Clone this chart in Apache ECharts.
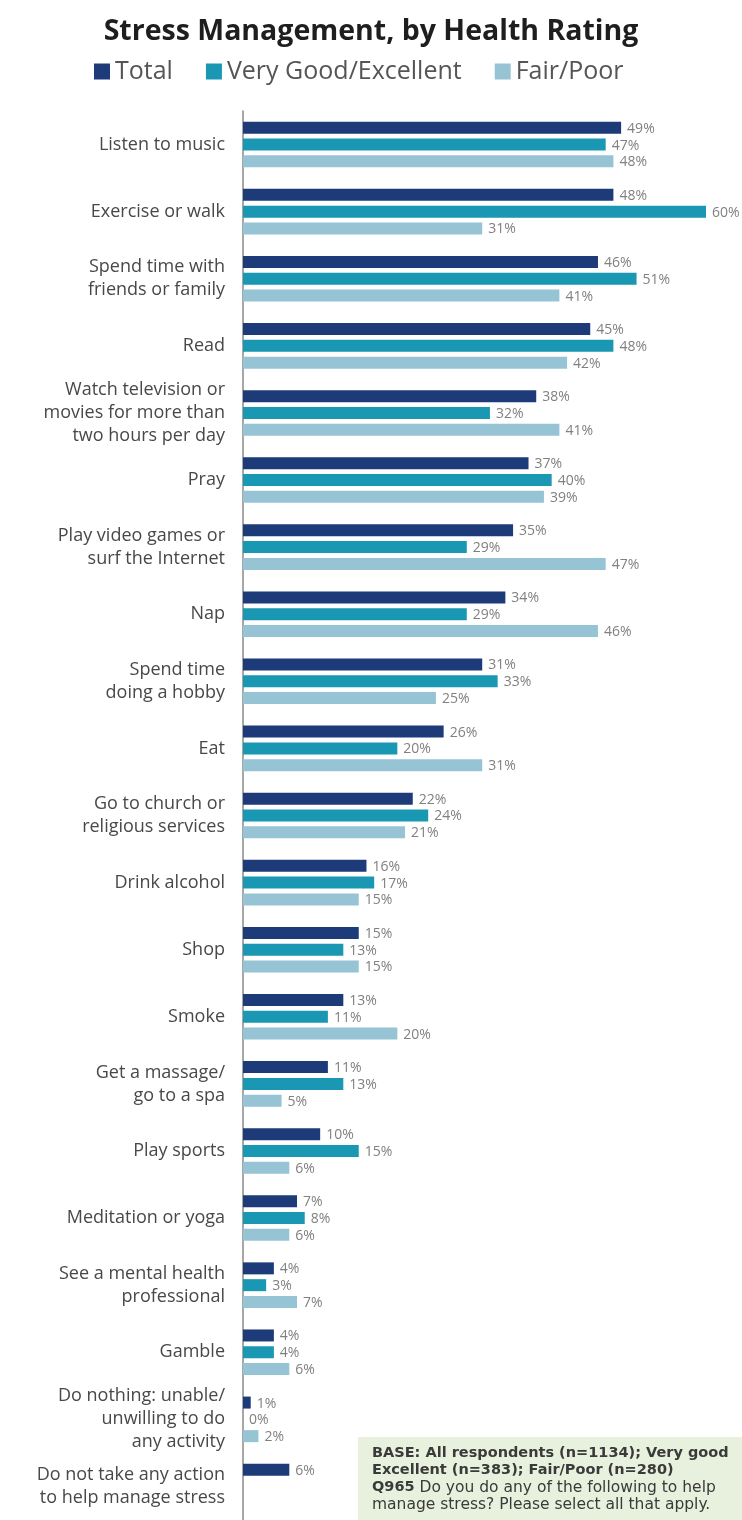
<!DOCTYPE html>
<html>
<head>
<meta charset="utf-8">
<script src="https://cdn.jsdelivr.net/npm/echarts@6/dist/echarts.min.js"></script>
<style>
  html, body { margin: 0; padding: 0; background: #ffffff; }
  #chart { width: 742px; height: 1520px; }
</style>
</head>
<body>
<div id="chart"></div>
<script>
// Stress management activities, share of respondents by self-rated health
const categories = [
  'Listen to music',
  'Exercise or walk',
  'Spend time with\nfriends or family',
  'Read',
  'Watch television or\nmovies for more than\ntwo hours per day',
  'Pray',
  'Play video games or\nsurf the Internet',
  'Nap',
  'Spend time\ndoing a hobby',
  'Eat',
  'Go to church or\nreligious services',
  'Drink alcohol',
  'Shop',
  'Smoke',
  'Get a massage/\ngo to a spa',
  'Play sports',
  'Meditation or yoga',
  'See a mental health\nprofessional',
  'Gamble',
  'Do nothing: unable/\nunwilling to do\nany activity',
  'Do not take any action\nto help manage stress'
];

const seriesNames = ['Total', 'Very Good/Excellent', 'Fair/Poor'];

const totalValues     = [49, 48, 46, 45, 38, 37, 35, 34, 31, 26, 22, 16, 15, 13, 11, 10, 7, 4, 4, 1, 6];
const veryGoodValues  = [47, 60, 51, 48, 32, 40, 29, 29, 33, 20, 24, 17, 13, 11, 13, 15, 8, 3, 4, 0, null];
const fairPoorValues  = [48, 31, 41, 42, 41, 39, 47, 46, 25, 31, 21, 15, 15, 20, 5, 6, 6, 7, 6, 2, null];

const colors = ['#1d3b78', '#1a97b2', '#97c4d5'];

const FONT = '"Open Sans", "Noto Sans", sans-serif';
const NOTE_FONT = '"DejaVu Sans", sans-serif';

const chart = echarts.init(document.getElementById('chart'), null, { renderer: 'canvas' });

function barSeries(name, values, color) {
  return {
    name: name,
    type: 'bar',
    data: values.map(v => (v === null ? '-' : v)),
    barWidth: 12,
    barGap: '40%',
    itemStyle: { color: color },
    label: {
      show: true,
      position: 'right',
      distance: 6,
      offset: [0, 1],
      formatter: '{c}%',
      color: '#808080',
      fontSize: 14,
      fontFamily: FONT
    },
    emphasis: { disabled: true },
    animation: false
  };
}

chart.setOption({
  backgroundColor: '#ffffff',
  animation: false,
  title: {
    text: 'Stress Management, by Health Rating',
    left: 'center',
    top: 12,
    textStyle: {
      fontFamily: FONT,
      fontWeight: 'bold',
      fontSize: 28.5,
      color: '#1e1e1e'
    }
  },
  legend: {
    data: seriesNames,
    left: 89,
    top: 54,
    icon: 'rect',
    itemWidth: 16,
    itemHeight: 16,
    itemGap: 33,
    textStyle: {
      fontFamily: FONT,
      fontSize: 25,
      color: '#555555'
    },
    selectedMode: false
  },
  grid: {
    left: 243,
    right: 36,
    top: 111,
    bottom: -2,
    containLabel: false
  },
  xAxis: {
    type: 'value',
    min: 0,
    max: 60,
    show: false
  },
  yAxis: {
    type: 'category',
    inverse: true,
    data: categories,
    axisLine: { lineStyle: { color: '#8a8a8a', width: 1.5 } },
    axisTick: { length: 6, lineStyle: { color: '#8a8a8a', width: 1.5 } },
    axisLabel: {
      margin: 18,
      fontFamily: FONT,
      fontSize: 18,
      lineHeight: 23,
      color: '#484848',
      align: 'right'
    }
  },
  series: [
    barSeries(seriesNames[0], totalValues, colors[0]),
    barSeries(seriesNames[1], veryGoodValues, colors[1]),
    barSeries(seriesNames[2], fairPoorValues, colors[2])
  ],
  graphic: [
    {
      type: 'rect',
      left: 358,
      top: 1437,
      shape: { width: 384, height: 83 },
      style: { fill: '#e8f1dd' },
      z: 10
    },
    {
      type: 'text',
      left: 372,
      top: 1446,
      z: 11,
      style: {
        text: '{b|BASE: All respondents (n=1134); Very good}\n{b|Excellent (n=383); Fair/Poor (n=280)}\n{b|Q965}{n| Do you do any of the following to help}\n{n|manage stress? Please select all that apply.}',
        rich: {
          b: { fontFamily: NOTE_FONT, fontWeight: 'bold', fontSize: 14.5, lineHeight: 17, fill: '#3a3a3a' },
          n: { fontFamily: NOTE_FONT, fontSize: 15.5, lineHeight: 17, fill: '#3a3a3a' }
        }
      }
    }
  ]
});
</script>
</body>
</html>
